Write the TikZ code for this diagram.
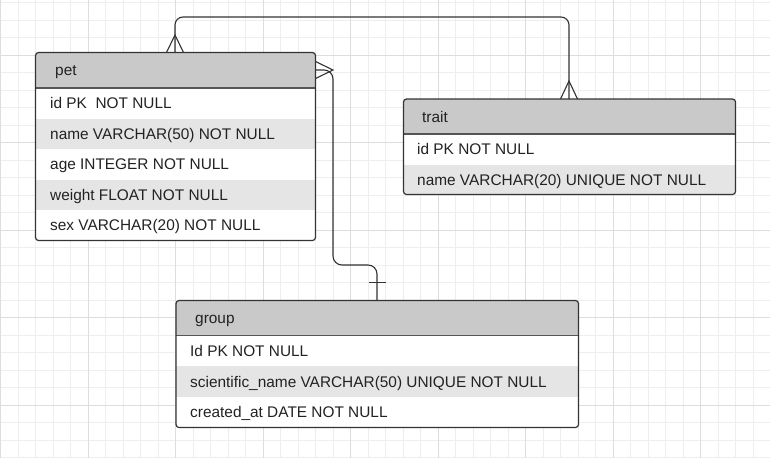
\documentclass[tikz,border=0pt]{standalone}
\usepackage{fontspec}
\setmainfont{Liberation Sans}
\definecolor{gridminor}{HTML}{EEEEEE}
\definecolor{gridmajor}{HTML}{DDDDDD}
\definecolor{headfill}{HTML}{C9C9C9}
\definecolor{altfill}{HTML}{E5E5E5}
\definecolor{linec}{HTML}{333333}
\definecolor{sepc}{HTML}{555555}
\definecolor{txt}{HTML}{222222}
\begin{document}
\begin{tikzpicture}[x=1pt,y=-1pt,
  tbl/.style={draw=linec, line width=1.2pt, rounded corners=3pt, inner sep=0pt, outer sep=0pt, anchor=north west},
  lbl/.style={anchor=base west, yshift=-5.5pt, inner sep=0pt, text=txt, font=\fontsize{15.4}{18}\selectfont},
  conn/.style={draw=linec, line width=1.1pt},
  sepline/.style={draw=sepc, line width=1.5pt}]
\useasboundingbox (0,0) rectangle (770,458);
\fill[white] (0,0) rectangle (770,458);
% grid
\foreach \i in {0,...,44} \draw[gridminor, line width=1pt] ({0.9+17.5*\i},0) -- ++(0,458);
\foreach \j in {0,...,26} \draw[gridminor, line width=1pt] (0,{2.5+17.5*\j}) -- ++(770,0);
\foreach \i in {0,...,8} \draw[gridmajor, line width=1pt] ({0.9+87.5*\i},0) -- ++(0,458);
\foreach \j in {1,...,5} \draw[gridmajor, line width=1pt] (0,{-32.5+87.5*\j}) -- ++(770,0);

% ---------- pet ----------
\begin{scope}
  \clip[rounded corners=3pt] (35.5,52.5) rectangle (315.5,240.5);
  \fill[white] (35.5,52.5) rectangle (315.5,240.5);
  \fill[headfill] (35.5,52.5) rectangle (315.5,88);
  \fill[altfill] (35.5,118.5) rectangle (315.5,149);
  \fill[altfill] (35.5,179.5) rectangle (315.5,210);
\end{scope}
\draw[sepline] (35.5,88) -- (315.5,88);
\node[tbl, minimum width=280pt, minimum height=188pt] (pet) at (35.5,52.5) {};
\node[lbl] (pett) at (55,70.25) {pet};
\node[lbl] (pet1) at (50,103.25) {id PK\ \ NOT NULL};
\node[lbl] (pet2) at (50,133.75) {name VARCHAR(50) NOT NULL};
\node[lbl] (pet3) at (50,164.25) {age INTEGER NOT NULL};
\node[lbl] (pet4) at (50,194.75) {weight FLOAT NOT NULL};
\node[lbl] (pet5) at (50,225.25) {sex VARCHAR(20) NOT NULL};

% ---------- trait ----------
\begin{scope}
  \clip[rounded corners=3pt] (403.5,99) rectangle (735.5,194.5);
  \fill[white] (403.5,99) rectangle (735.5,194.5);
  \fill[headfill] (403.5,99) rectangle (735.5,134);
  \fill[altfill] (403.5,164.5) rectangle (735.5,194.5);
\end{scope}
\draw[sepline] (403.5,134) -- (735.5,134);
\node[tbl, minimum width=332pt, minimum height=95.5pt] (trait) at (403.5,99) {};
\node[lbl] (traitt) at (422,116.5) {trait};
\node[lbl] (trait1) at (417,149.25) {id PK NOT NULL};
\node[lbl] (trait2) at (417,179.5) {name VARCHAR(20) UNIQUE NOT NULL};

% ---------- group ----------
\begin{scope}
  \clip[rounded corners=3pt] (176,300.5) rectangle (578.5,427.5);
  \fill[white] (176,300.5) rectangle (578.5,427.5);
  \fill[headfill] (176,300.5) rectangle (578.5,335.5);
  \fill[altfill] (176,366) rectangle (578.5,397);
\end{scope}
\draw[sepline] (176,335.5) -- (578.5,335.5);
\node[tbl, minimum width=402.5pt, minimum height=127pt] (group) at (176,300.5) {};
\node[lbl] (groupt) at (195,318) {group};
\node[lbl] (group1) at (190,350.75) {Id PK NOT NULL};
\node[lbl] (group2) at (190,381.5) {scientific\_name VARCHAR(50) UNIQUE NOT NULL};
\node[lbl] (group3) at (190,412.25) {created\_at DATE NOT NULL};

% ---------- connector pet -- trait ----------
\coordinate (pa) at ([xshift=139.5pt]pet.north west);
\coordinate (ta) at ([xshift=165.5pt]trait.north west);
\draw[conn, rounded corners=8pt] (pa) -- ++(0,-35.5) -| (ta);
\draw[conn] ([xshift=-8.5pt]pa) -- ([yshift=17.5pt]pa) -- ([xshift=8.5pt]pa);
\draw[conn] ([xshift=-8.5pt]ta) -- ([yshift=18pt]ta) -- ([xshift=8.5pt]ta);

% ---------- connector pet -- group ----------
\coordinate (pb) at ([yshift=-17.5pt]pet.north east);
\coordinate (gb) at ([xshift=201pt]group.north west);
\draw[conn, rounded corners=9pt] (pb) -- ++(17.5,0) -- ++(0,195) -| (gb);
\draw[conn] ([yshift=8.5pt]pb) -- ([xshift=17.5pt]pb) -- ([yshift=-8.5pt]pb);
\draw[conn] ([xshift=-8.5pt,yshift=18pt]gb) -- ([xshift=8.5pt,yshift=18pt]gb);
\end{tikzpicture}
\end{document}
